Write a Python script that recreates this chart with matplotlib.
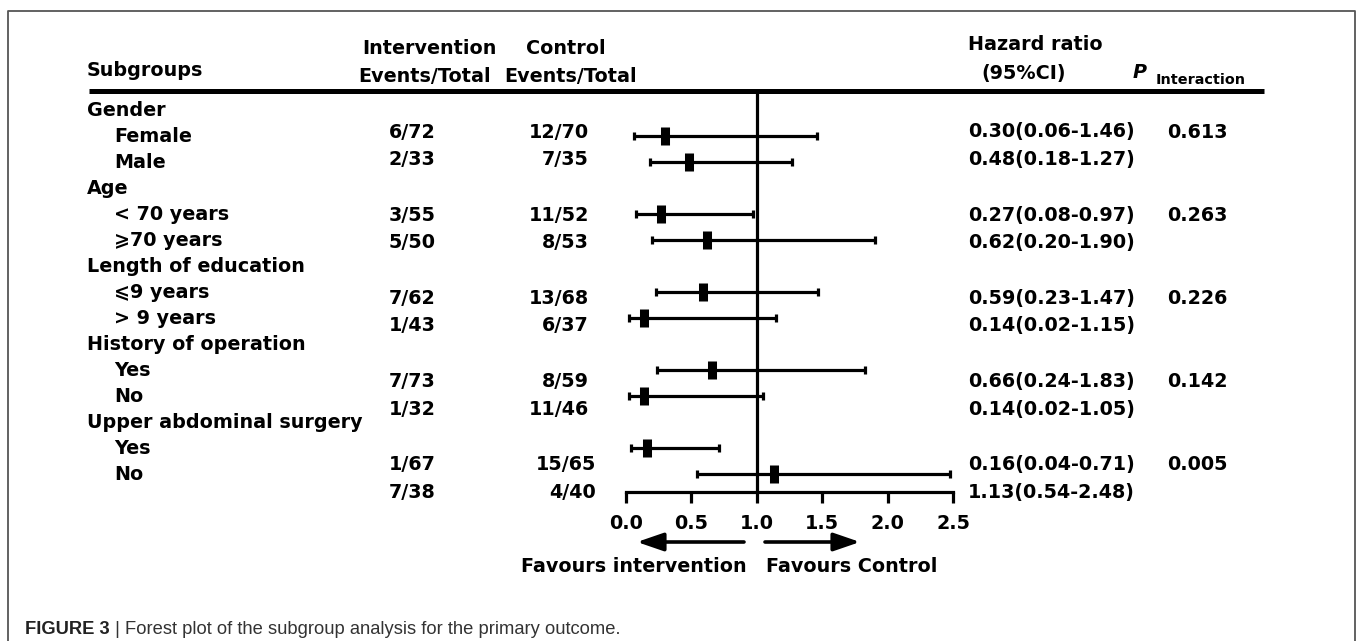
import matplotlib
matplotlib.use("Agg")
import matplotlib.pyplot as plt

plt.rcParams['font.family'] = ['DejaVu Sans', 'Liberation Sans']

# data
groups = ['Gender', 'Age', 'Length of education', 'History of operation',
          'Upper abdominal surgery']
levels = [['Female', 'Male'], ['< 70 years', '\u2a7e70 years'],
          ['\u2a7d9 years', '> 9 years'], ['Yes', 'No'], ['Yes', 'No']]
int_events = [6, 2, 3, 5, 7, 1, 7, 1, 1, 7]
int_total = [72, 33, 55, 50, 62, 43, 73, 32, 67, 38]
ctl_events = [12, 7, 11, 8, 13, 6, 8, 11, 15, 4]
ctl_total = [70, 35, 52, 53, 68, 37, 59, 46, 65, 40]
hr = [0.30, 0.48, 0.27, 0.62, 0.59, 0.14, 0.66, 0.14, 0.16, 1.13]
hr_lo = [0.06, 0.18, 0.08, 0.20, 0.23, 0.02, 0.24, 0.02, 0.04, 0.54]
hr_hi = [1.46, 1.27, 0.97, 1.90, 1.47, 1.15, 1.83, 1.05, 0.71, 2.48]
p_interaction = ['0.613', '0.263', '0.226', '0.142', '0.005']
xticks = [0.0, 0.5, 1.0, 1.5, 2.0, 2.5]

W, H = 1357, 641
FS = 13.8
fig = plt.figure(figsize=(W / 100, H / 100), dpi=100)
ax = fig.add_axes([0, 0, 1, 1])
ax.set_xlim(0, W)
ax.set_ylim(H, 0)
ax.axis('off')

# frame and header rule
ax.plot([8, 8, 1355, 1355], [H + 5, 11, 11, H + 5], color='#555555', lw=1.3)
ax.plot([89, 1264], [91, 91], color='k', lw=3.6, solid_capstyle='butt')

bold = dict(fontsize=FS, fontweight='bold', color='k', va='center')
ax.text(87, 71, 'Subgroups', ha='left', **bold)
ax.text(429, 49, 'Intervention', ha='center', **bold)
ax.text(425, 77, 'Events/Total', ha='center', **bold)
ax.text(566, 49, 'Control', ha='center', **bold)
ax.text(571, 77, 'Events/Total', ha='center', **bold)
ax.text(968, 45, 'Hazard ratio', ha='left', **bold)
ax.text(981, 73, '(95%CI)', ha='left', **bold)
ax.text(1133, 73, 'P', ha='left', fontsize=FS, fontweight='bold',
        fontstyle='italic', va='center')
ax.text(1156, 80, 'Interaction', ha='left', fontsize=10.4, fontweight='bold',
        va='center')

# row labels
line_y0, line_step = 110, 26.0
row_y = []
line = 0
for g, name in enumerate(groups):
    ax.text(87, line_y0 + line_step * line, name, ha='left', **bold)
    line += 1
    for lab in levels[g]:
        y = line_y0 + line_step * line
        ax.text(114, y, lab, ha='left', **bold)
        row_y.append(y)
        line += 1

# numeric columns (offset rows as in the original)
ctl_right = [589] * 8 + [596] * 2
for i in range(len(hr)):
    g, k = divmod(i, 2)
    y = 132 + 83.2 * g + 27.5 * k
    ax.text(389, y, f'{int_events[i]}/{int_total[i]}', ha='left', **bold)
    ax.text(ctl_right[i], y, f'{ctl_events[i]}/{ctl_total[i]}', ha='right', **bold)
    ax.text(968, y, f'{hr[i]:.2f}({hr_lo[i]:.2f}-{hr_hi[i]:.2f})', ha='left', **bold)
    if k == 0:
        ax.text(1167, y, p_interaction[g], ha='left', **bold)

# forest panel
x0, x1, ytop, ybot = 626, 953, 91, 492
fx = fig.add_axes([x0 / W, (H - ybot) / H, (x1 - x0) / W, (ybot - ytop) / H])
fx.set_xlim(0, 2.5)
fx.set_ylim(ybot, ytop)
fx.patch.set_alpha(0)
for s in ['left', 'right', 'top']:
    fx.spines[s].set_visible(False)
fx.spines['bottom'].set_linewidth(2.3)
fx.set_yticks([])
fx.set_xticks(xticks)
fx.set_xticklabels([f'{t:.1f}' for t in xticks], fontsize=FS, fontweight='bold')
fx.tick_params(axis='x', length=8, width=2.3, pad=8, direction='out')
fx.axvline(1.0, color='k', lw=2.3)

err = [[h - l for h, l in zip(hr, hr_lo)], [u - h for h, u in zip(hr, hr_hi)]]
fx.errorbar(hr, row_y, xerr=err, fmt='none', ecolor='k', elinewidth=2.3,
            capsize=3.2, capthick=2.3)
fx.plot(hr, row_y, linestyle='none', marker='|', markersize=12.5,
        markeredgewidth=6.5, color='k')

# direction arrows
arrow = dict(arrowstyle='-|>,head_length=1.6,head_width=0.55', lw=2.6,
             color='k', shrinkA=0, shrinkB=0, mutation_scale=10)
ax.annotate('', xy=(637, 542), xytext=(744, 542), arrowprops=arrow)
ax.annotate('', xy=(860, 542), xytext=(765, 542), arrowprops=arrow)
ax.text(747, 567, 'Favours intervention', ha='right', **bold)
ax.text(766, 567, 'Favours Control', ha='left', **bold)

# caption
cap_font = ['Liberation Sans', 'DejaVu Sans']
t1 = ax.text(25, 629, 'FIGURE 3', ha='left', va='center', fontsize=13.2,
             fontweight='bold', color='#222222', family=cap_font)
fig.canvas.draw()
bb = t1.get_window_extent()
xend = bb.x1 * W / fig.bbox.width
ax.text(xend, 629, ' | Forest plot of the subgroup analysis for the primary outcome.',
        ha='left', va='center', fontsize=13.2, color='#333333', family=cap_font)

fig.savefig('out.png', dpi=100)
